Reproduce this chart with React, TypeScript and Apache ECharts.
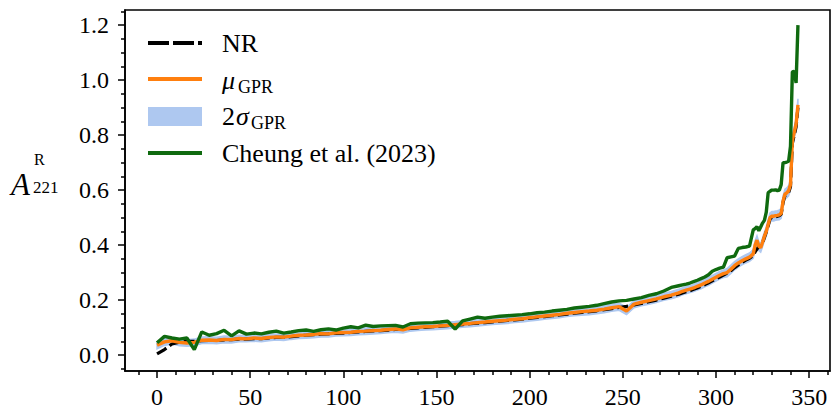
import React, { useEffect, useRef } from "react";
import * as echarts from "echarts";

// x positions (simulation index)
const xs = [
  0, 4, 8, 12, 16, 20, 24, 28, 32, 36, 40, 44, 48, 52, 56, 60, 64, 68, 72, 76,
  80, 84, 88, 92, 96, 100, 104, 108, 112, 116, 120, 124, 128, 132, 136, 140, 144, 148, 152, 156,
  160, 164, 168, 172, 176, 180, 184, 188, 192, 196, 200, 204, 208, 212, 216, 220, 224, 228, 232, 236,
  240, 244, 248, 252, 256, 260, 264, 268, 272, 276, 280,
  282, 284, 286, 288, 290, 292, 294, 296, 298, 300, 302, 304, 306, 308, 310, 312, 314, 316, 318, 320,
  321, 322, 323, 324, 325, 326, 327, 328, 329, 330, 331, 332, 333, 334, 335, 336, 337, 338, 339, 340,
  341, 342, 343, 344,
];

const nrValues = [
  0.004, 0.020, 0.040, 0.047, 0.050, 0.050, 0.052, 0.053, 0.053, 0.055,
  0.056, 0.058, 0.058, 0.060, 0.060, 0.062, 0.064, 0.065, 0.067, 0.070,
  0.072, 0.074, 0.076, 0.077, 0.079, 0.080, 0.082, 0.084, 0.086, 0.088,
  0.089, 0.091, 0.093, 0.095, 0.097, 0.099, 0.101, 0.103, 0.105, 0.107,
  0.109, 0.111, 0.114, 0.116, 0.118, 0.121, 0.123, 0.126, 0.128, 0.131,
  0.134, 0.137, 0.140, 0.143, 0.146, 0.149, 0.152, 0.155, 0.158, 0.161,
  0.165, 0.169, 0.173, 0.177, 0.182, 0.188, 0.194, 0.200, 0.207, 0.214,
  0.221,
  0.226, 0.230, 0.234, 0.239, 0.244, 0.250, 0.256, 0.263, 0.270, 0.277,
  0.284, 0.291, 0.298, 0.307, 0.318, 0.328, 0.337, 0.345, 0.352, 0.362,
  0.375, 0.385, 0.395, 0.400, 0.408, 0.428, 0.448, 0.470, 0.495, 0.500,
  0.502, 0.503, 0.505, 0.507, 0.512, 0.555, 0.580, 0.585, 0.592, 0.612,
  0.770, 0.800, 0.830, 0.900,
];

const gprMean = [
  0.036, 0.048, 0.052, 0.046, 0.044, 0.046, 0.054, 0.055, 0.053, 0.057,
  0.056, 0.060, 0.059, 0.062, 0.060, 0.064, 0.066, 0.065, 0.069, 0.072,
  0.073, 0.075, 0.078, 0.077, 0.081, 0.082, 0.083, 0.086, 0.087, 0.089,
  0.090, 0.093, 0.095, 0.092, 0.099, 0.101, 0.103, 0.104, 0.106, 0.108,
  0.110, 0.113, 0.115, 0.118, 0.120, 0.123, 0.125, 0.127, 0.130, 0.132,
  0.136, 0.139, 0.142, 0.145, 0.148, 0.152, 0.155, 0.158, 0.160, 0.163,
  0.167, 0.172, 0.176, 0.160, 0.185, 0.192, 0.198, 0.204, 0.212, 0.218,
  0.226,
  0.232, 0.236, 0.240, 0.244, 0.250, 0.255, 0.262, 0.268, 0.276, 0.283,
  0.290, 0.296, 0.300, 0.312, 0.325, 0.335, 0.343, 0.350, 0.356, 0.368,
  0.400, 0.418, 0.396, 0.390, 0.410, 0.432, 0.450, 0.475, 0.500, 0.505,
  0.505, 0.507, 0.508, 0.510, 0.515, 0.560, 0.585, 0.590, 0.598, 0.620,
  0.780, 0.810, 0.840, 0.910,
];

const gprTwoSigma = [
  0.013, 0.013, 0.012, 0.012, 0.012, 0.012, 0.012, 0.012, 0.012, 0.012,
  0.012, 0.012, 0.011, 0.012, 0.012, 0.012, 0.011, 0.012, 0.012, 0.012,
  0.012, 0.012, 0.012, 0.011, 0.012, 0.012, 0.012, 0.012, 0.012, 0.012,
  0.012, 0.012, 0.012, 0.012, 0.012, 0.012, 0.012, 0.012, 0.012, 0.012,
  0.012, 0.012, 0.012, 0.012, 0.012, 0.012, 0.012, 0.012, 0.012, 0.012,
  0.012, 0.012, 0.012, 0.012, 0.012, 0.012, 0.012, 0.013, 0.013, 0.013,
  0.013, 0.013, 0.013, 0.013, 0.013, 0.013, 0.013, 0.013, 0.013, 0.013,
  0.013,
  0.013, 0.013, 0.013, 0.013, 0.014, 0.014, 0.014, 0.014, 0.014, 0.014,
  0.014, 0.014, 0.015, 0.015, 0.015, 0.015, 0.015, 0.015, 0.015, 0.016,
  0.016, 0.016, 0.016, 0.016, 0.016, 0.016, 0.017, 0.017, 0.017, 0.017,
  0.017, 0.017, 0.017, 0.018, 0.018, 0.018, 0.018, 0.018, 0.019, 0.019,
  0.020, 0.020, 0.021, 0.022,
];

const cheung2023 = [
  0.045, 0.068, 0.062, 0.058, 0.062, 0.020, 0.084, 0.072, 0.078, 0.090,
  0.070, 0.088, 0.076, 0.080, 0.077, 0.083, 0.087, 0.080, 0.084, 0.089,
  0.091, 0.086, 0.092, 0.095, 0.091, 0.098, 0.103, 0.099, 0.109, 0.104,
  0.106, 0.107, 0.108, 0.102, 0.114, 0.116, 0.117, 0.118, 0.120, 0.123,
  0.094, 0.124, 0.131, 0.138, 0.134, 0.138, 0.141, 0.143, 0.145, 0.147,
  0.150, 0.154, 0.156, 0.160, 0.163, 0.166, 0.171, 0.174, 0.177, 0.181,
  0.187, 0.193, 0.197, 0.199, 0.204, 0.209, 0.217, 0.223, 0.233, 0.246,
  0.252,
  0.255, 0.258, 0.262, 0.267, 0.272, 0.278, 0.284, 0.292, 0.305, 0.311,
  0.316, 0.320, 0.354, 0.357, 0.360, 0.388, 0.391, 0.393, 0.396, 0.455,
  0.460, 0.467, 0.452, 0.466, 0.480, 0.490, 0.520, 0.590, 0.596, 0.600,
  0.600, 0.601, 0.598, 0.600, 0.620, 0.700, 0.700, 0.702, 0.705, 0.760,
  1.030, 1.032, 0.990, 1.200,
];

const xMajorTicks = [0, 50, 100, 150, 200, 250, 300, 350];
const xMinorTicks = [-10, 10, 20, 30, 40, 60, 70, 80, 90, 110, 120, 130, 140, 160, 170, 180, 190, 210, 220, 230, 240, 260, 270, 280, 290, 310, 320, 330, 340, 360];
const yMajorTicks = [0, 0.2, 0.4, 0.6, 0.8, 1.0, 1.2];
const yMinorTicks = [-0.05, 0.05, 0.1, 0.15, 0.25, 0.3, 0.35, 0.45, 0.5, 0.55, 0.65, 0.7, 0.75, 0.85, 0.9, 0.95, 1.05, 1.1, 1.15, 1.25];

const legendLabels = ["NR", "GPR", "Cheung et al. (2023)"];

const FONT = "Liberation Serif, DejaVu Serif, serif";
const ORANGE = "#ff7f0e";
const GREEN = "#0f6a0f";
const BAND = "#aec8f0";

export default function App() {
  const ref = useRef<HTMLDivElement>(null);
  useEffect(() => {
    if (!ref.current) return;
    document.body.style.margin = "0";
    const chart = echarts.init(ref.current, null, { renderer: "svg" });
    const X_MIN = -17.2;
    const X_MAX = 361.2;
    const Y_MIN = -0.058;
    const Y_MAX = 1.255;
    const tickStyle = { color: "#000", width: 1.5 };
    const lbl = { fontFamily: FONT, fontSize: 24, color: "#000" };
    const gridBox = {
      left: 125,
      right: 2,
      top: 10,
      bottom: 38,
      containLabel: false,
      outerBoundsMode: "none",
    };

    const txt = (x: number, y: number, text: string, size: number, italic = false) => ({
      type: "text",
      x,
      y,
      z: 100,
      style: {
        text,
        fill: "#000",
        fontFamily: FONT,
        fontSize: size,
        fontStyle: italic ? "italic" : "normal",
        align: "left",
        verticalAlign: "middle",
        textAlign: "left",
        textVerticalAlign: "middle",
      },
    });

    const option: any = {
      animation: false,
      backgroundColor: "#fff",
      grid: [
        {
          ...gridBox,
          show: true,
          borderColor: "#000",
          borderWidth: 1.6,
          backgroundColor: "transparent",
        },
        { ...gridBox, show: false },
      ],
      xAxis: [
        {
          type: "value",
          gridIndex: 0,
          min: X_MIN,
          max: X_MAX,
          position: "bottom",
          axisLine: { show: true, onZero: false, lineStyle: { color: "#000", width: 1.6 } },
          axisTick: { show: true, customValues: xMajorTicks, length: 7, lineStyle: tickStyle },
          axisLabel: { show: true, customValues: xMajorTicks, margin: 14, ...lbl },
          splitLine: { show: false },
        },
        {
          type: "value",
          gridIndex: 1,
          min: X_MIN,
          max: X_MAX,
          position: "bottom",
          axisLine: { show: false, onZero: false },
          axisTick: { show: true, customValues: xMinorTicks, length: 4, lineStyle: tickStyle },
          axisLabel: { show: false },
          splitLine: { show: false },
        },
      ],
      yAxis: [
        {
          type: "value",
          gridIndex: 0,
          min: Y_MIN,
          max: Y_MAX,
          position: "left",
          axisLine: { show: true, onZero: false, lineStyle: { color: "#000", width: 1.6 } },
          axisTick: { show: true, customValues: yMajorTicks, length: 7, lineStyle: tickStyle },
          axisLabel: {
            show: true,
            customValues: yMajorTicks,
            margin: 16,
            formatter: (v: number) => v.toFixed(1),
            ...lbl,
          },
          splitLine: { show: false },
        },
        {
          type: "value",
          gridIndex: 1,
          min: Y_MIN,
          max: Y_MAX,
          position: "left",
          axisLine: { show: false, onZero: false },
          axisTick: { show: true, customValues: yMinorTicks, length: 4, lineStyle: tickStyle },
          axisLabel: { show: false },
          splitLine: { show: false },
        },
      ],
      series: [
        {
          name: "2σ GPR",
          type: "custom",
          xAxisIndex: 0,
          yAxisIndex: 0,
          silent: true,
          clip: true,
          z: 1,
          encode: { x: 0, y: [1, 2] },
          data: xs.map((x, i) => [x, gprMean[i] - gprTwoSigma[i], gprMean[i] + gprTwoSigma[i]]),
          renderItem: (params: any, api: any) => {
            if (params.dataIndex !== 0) return { type: "group", children: [] };
            const upper = xs.map((x, i) => api.coord([x, gprMean[i] + gprTwoSigma[i]]));
            const lower = xs.map((x, i) => api.coord([x, gprMean[i] - gprTwoSigma[i]])).reverse();
            return {
              type: "polygon",
              shape: { points: upper.concat(lower) },
              style: { fill: BAND, stroke: BAND, lineWidth: 1.5 },
            };
          },
        },
        {
          name: legendLabels[0],
          type: "line",
          xAxisIndex: 0,
          yAxisIndex: 0,
          symbol: "none",
          lineStyle: { color: "#000", width: 3.2, type: [11, 4] },
          data: xs.map((x, i) => [x, nrValues[i]]),
          z: 2,
        },
        {
          name: "μ GPR",
          type: "line",
          xAxisIndex: 0,
          yAxisIndex: 0,
          symbol: "none",
          lineStyle: { color: ORANGE, width: 3.4 },
          data: xs.map((x, i) => [x, gprMean[i]]),
          z: 3,
        },
        {
          name: legendLabels[2],
          type: "line",
          xAxisIndex: 0,
          yAxisIndex: 0,
          symbol: "none",
          lineStyle: { color: GREEN, width: 3.4 },
          data: xs.map((x, i) => [x, cheung2023[i]]),
          z: 4,
        },
      ],
      graphic: [
        // y-axis label A^R_221
        txt(11, 184, "A", 31, true),
        txt(34, 159, "R", 16),
        txt(33, 187, "221", 17),
        // legend handles
        { type: "line", z: 100, shape: { x1: 148, y1: 43, x2: 202, y2: 43 }, style: { stroke: "#000", lineWidth: 4, lineDash: [21, 4] } },
        { type: "line", z: 100, shape: { x1: 148, y1: 79, x2: 202, y2: 79 }, style: { stroke: ORANGE, lineWidth: 4 } },
        { type: "rect", z: 100, shape: { x: 148, y: 107, width: 54, height: 19 }, style: { fill: BAND } },
        { type: "line", z: 100, shape: { x1: 148, y1: 153, x2: 202, y2: 153 }, style: { stroke: GREEN, lineWidth: 4 } },
        // legend texts
        txt(222, 43, legendLabels[0], 26),
        txt(222, 80, "μ", 26, true),
        txt(238, 87, legendLabels[1], 18),
        txt(222, 116, "2", 26),
        txt(236, 116, "σ", 26, true),
        txt(251, 123, legendLabels[1], 18),
        txt(222, 153, legendLabels[2], 26),
      ],
    };
    chart.setOption(option);
    return () => chart.dispose();
  }, []);
  return (
    <div
      ref={ref}
      style={{ position: "fixed", left: 0, top: 0, width: 832, height: 409, background: "#fff" }}
    />
  );
}
